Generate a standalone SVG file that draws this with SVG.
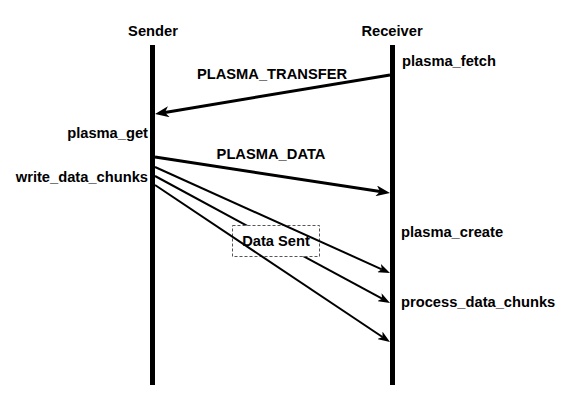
<svg xmlns="http://www.w3.org/2000/svg" width="574" height="405" viewBox="0 0 574 405">
<style>
text{font-family:"Liberation Sans",Arial,sans-serif;font-size:14.7px;font-weight:bold;fill:#000}
.thick{stroke:#000;stroke-width:3;fill:none;marker-end:url(#ah)}
.thin{stroke:#000;stroke-width:2;fill:none;marker-end:url(#ahs)}
</style>
<defs>
<marker id="ah" markerWidth="14" markerHeight="11" refX="4" refY="5.5" orient="auto" markerUnits="userSpaceOnUse"><path d="M0,0 L14,5.5 L0,11 L4,5.5 Z" fill="#000"/></marker>
<marker id="ahs" markerWidth="12" markerHeight="9" refX="3" refY="4.5" orient="auto" markerUnits="userSpaceOnUse"><path d="M0,0 L12,4.5 L0,9 L3,4.5 Z" fill="#000"/></marker>
</defs>
<rect width="574" height="405" fill="#fff"/>
<g id="sender">
<rect x="150" y="45" width="5" height="340" fill="#000"/>
<text x="153" y="36" text-anchor="middle">Sender</text>
</g>
<g id="receiver">
<rect x="390" y="45" width="5" height="340" fill="#000"/>
<text x="392" y="36" text-anchor="middle">Receiver</text>
</g>
<g id="labels">
<text x="402" y="66">plasma_fetch</text>
<text x="148" y="138" text-anchor="end">plasma_get</text>
<text x="148" y="182" text-anchor="end">write_data_chunks</text>
<text x="401" y="237">plasma_create</text>
<text x="401" y="307">process_data_chunks</text>
</g>
<g id="connectors">
<line class="thick" x1="390" y1="75" x2="164.9" y2="112.4"/>
<line class="thick" x1="155" y1="157" x2="380.1" y2="191.5"/>
<line class="thin" x1="155" y1="176" x2="382.1" y2="298.7"/>
</g>
<g id="data-sent">
<rect x="232.5" y="225.5" width="87" height="31" fill="#fff" stroke="#555" stroke-width="1" stroke-dasharray="3,2"/>
</g>
<g id="connectors2">
<line class="thin" x1="155" y1="167" x2="381.8" y2="269.3"/>
<line class="thin" x1="155" y1="185" x2="382.5" y2="337"/>
</g>
<g id="connector-labels">
<text x="272" y="79" text-anchor="middle">PLASMA_TRANSFER</text>
<text x="271" y="159" text-anchor="middle">PLASMA_DATA</text>
<text x="276" y="246" text-anchor="middle">Data Sent</text>
</g>
</svg>
